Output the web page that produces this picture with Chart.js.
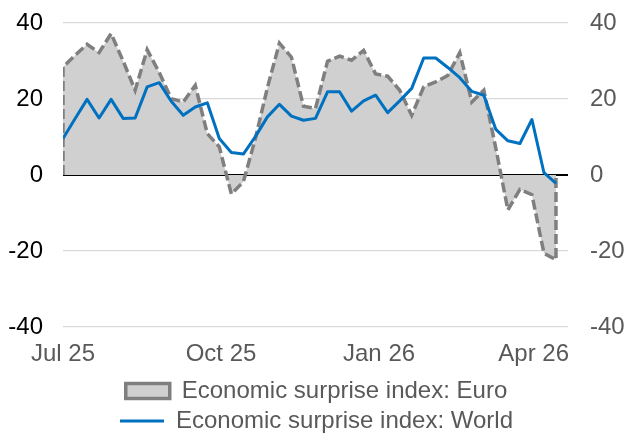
<!DOCTYPE html>
<html>
<head>
<meta charset="utf-8">
<script src="https://cdn.jsdelivr.net/npm/chart.js@4"></script>
<style>
  body { margin: 0; background: #fff; }
  canvas { display: block; }
</style>
</head>
<body>
<canvas id="chart" width="626" height="434"></canvas>
<script>
// weekly readings, first week of Jul 2025 onwards
const euro = [28.4, 31.5, 34.4, 32.2, 37.2, 30.0, 22.3, 33.0, 27.0, 20.1,
              19.2, 23.6, 10.9, 7.4, -5.0, -1.8, 9.6, 23.0, 34.7, 31.0,
              18.1, 17.5, 29.9, 31.3, 30.2, 32.8, 26.6, 26.0, 22.3, 15.7,
              23.2, 24.5, 26.2, 32.2, 19.2, 22.3, 7.0, -9.2, -3.8, -5.2,
              -20.6, -22.3];
const world = [9.6, 14.8, 19.9, 15.0, 19.9, 14.9, 15.0, 23.2, 24.3, 19.4,
               15.7, 17.9, 19.0, 9.6, 5.9, 5.5, 10.1, 15.3, 18.6, 15.5,
               14.4, 14.9, 21.9, 21.9, 16.8, 19.5, 21.0, 16.4, 19.5, 22.8,
               30.8, 30.8, 28.3, 25.6, 22.0, 21.0, 12.0, 9.0, 8.3, 14.6,
               0.6, -2.2];
const seriesNames = ['Economic surprise index: Euro', 'Economic surprise index: World'];
const tickDays = [0, 92, 184, 274];   // days from 1 Jul 25 to each month start
const tickLabels = ['Jul 25', 'Oct 25', 'Jan 26', 'Apr 26'];
const yTicks = [-40, -20, 0, 20, 40];

const DAYS = 7;
const lastDay = (euro.length - 1) * DAYS;

// area closes down to zero at both ends, like the excel area border
const euroPoints = [{x: 0, y: 0}, ...euro.map((v, i) => ({x: i * DAYS, y: v})), {x: lastDay, y: 0}];
const worldPoints = world.map((v, i) => ({x: i * DAYS, y: v}));

Chart.defaults.font.family = '"Liberation Sans", Arial, sans-serif';
Chart.defaults.font.size = 24;

const setTicks = list => scale => { scale.ticks = list.map(v => ({value: v})); };
// chart.js counts tick padding on both sides, so pin the box sizes
const fixWidth = w => scale => { scale.width = w; scale.paddingTop = 0; scale.paddingBottom = 0; };
const fixHeight = h => scale => { scale.height = h; scale.paddingLeft = 0; scale.paddingRight = 0; };

new Chart(document.getElementById('chart').getContext('2d'), {
    type: 'line',
    data: {
        datasets: [{
            label: seriesNames[0],
            data: euroPoints,
            borderColor: '#7f7f7f',
            backgroundColor: '#d0d0d0',
            borderWidth: 3.5,
            borderDash: [10, 4],
            fill: 'origin',
            tension: 0,
            pointRadius: 0,
            pointStyle: 'rect',
            order: 1
        }, {
            label: seriesNames[1],
            data: worldPoints,
            borderColor: '#0070c0',
            backgroundColor: '#0070c0',
            borderWidth: 3,
            borderJoinStyle: 'round',
            fill: false,
            tension: 0,
            pointRadius: 0,
            pointStyle: 'line',
            order: 0
        }]
    },
    options: {
        responsive: false,
        animation: false,
        layout: { padding: { top: 23, left: 8, right: 1, bottom: 0 } },
        plugins: {
            tooltip: { enabled: false },
            legend: {
                position: 'bottom',
                maxHeight: 61,
                labels: {
                    usePointStyle: true,
                    pointStyleWidth: 44,
                    boxHeight: 15,
                    padding: 6,
                    color: '#595959',
                    sort: (a, b) => a.datasetIndex - b.datasetIndex
                }
            }
        },
        scales: {
            x: {
                type: 'linear',
                min: 0,
                max: lastDay + DAYS,
                afterBuildTicks: setTicks(tickDays),
                afterFit: fixHeight(46),
                grid: { display: false, drawTicks: false },
                border: { display: false },
                ticks: {
                    autoSkip: false,
                    maxRotation: 0,
                    padding: 9,
                    color: '#595959',
                    font: { lineHeight: 1.54 },
                    callback: (v, i) => tickLabels[i]
                }
            },
            y: {
                position: 'left',
                min: -40,
                max: 40,
                afterBuildTicks: setTicks(yTicks),
                afterFit: fixWidth(55),
                border: { display: false },
                grid: {
                    drawTicks: false,
                    color: c => c.tick.value === 0 ? '#000000' : '#d9d9d9',
                    lineWidth: c => c.tick.value === 0 ? 2 : 1.3
                },
                ticks: { color: '#000000', padding: 20 }
            },
            y2: {
                position: 'right',
                min: -40,
                max: 40,
                afterBuildTicks: setTicks(yTicks),
                afterFit: fixWidth(57),
                border: { display: false },
                grid: { display: false, drawTicks: false },
                ticks: { color: '#595959', padding: 22 }
            }
        }
    }
});
</script>
</body>
</html>
